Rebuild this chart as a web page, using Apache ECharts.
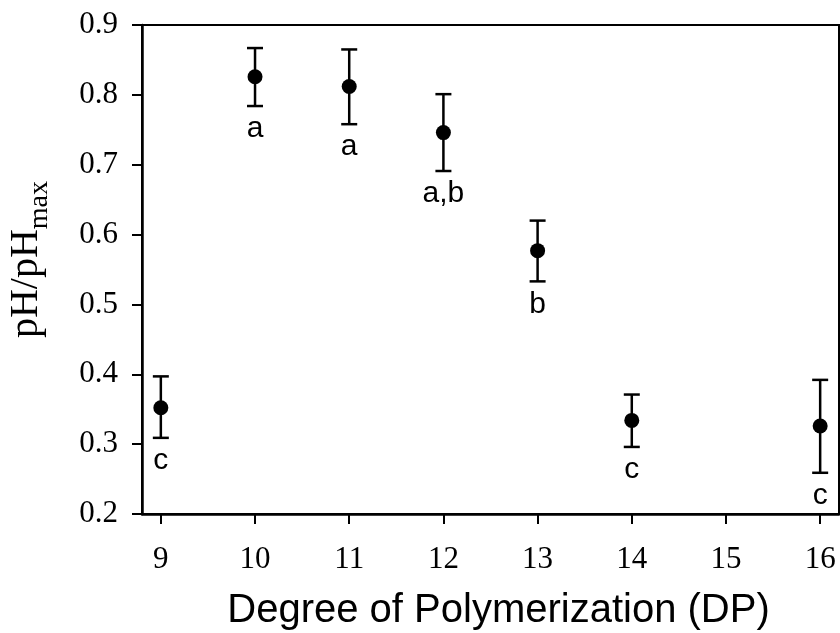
<!DOCTYPE html>
<html>
<head>
<meta charset="utf-8">
<script src="https://cdn.jsdelivr.net/npm/echarts@6/dist/echarts.min.js"></script>
<style>
html,body{margin:0;padding:0;background:#fff;}
#chart{width:840px;height:633px;}
</style>
</head>
<body>
<div id="chart"></div>
<script>
// Data
var dp = [9, 10, 11, 12, 13, 14, 16];
var means = [0.352, 0.826, 0.812, 0.746, 0.577, 0.334, 0.326];
var upper = [0.397, 0.867, 0.865, 0.801, 0.620, 0.371, 0.392];
var lower = [0.309, 0.784, 0.758, 0.691, 0.533, 0.296, 0.259];
var letters = ['c', 'a', 'a', 'a,b', 'b', 'c', 'c'];
var xTicks = [9, 10, 11, 12, 13, 14, 15, 16];

var chart = echarts.init(document.getElementById('chart'), null, {renderer: 'canvas'});

var pointData = dp.map(function (d, i) { return [d, means[i]]; });
var errData = dp.map(function (d, i) { return [d, lower[i], upper[i]]; });

var serif = '"Liberation Serif", "Times New Roman", serif';
var sans = '"Liberation Sans", Arial, sans-serif';

var option = {
  backgroundColor: '#fff',
  animation: false,
  grid: {
    left: 142, right: 1, top: 25, bottom: 119,
    outerBoundsMode: 'none',
    containLabel: false,
    show: true, borderColor: '#000', borderWidth: 2
  },
  xAxis: {
    type: 'value',
    min: 8.8, max: 16.2,
    splitLine: {show: false},
    axisLine: {show: true, onZero: false, lineStyle: {color: '#000', width: 2.5}},
    axisTick: {show: true, inside: false, length: 10, customValues: xTicks, lineStyle: {color: '#000', width: 2}},
    axisLabel: {customValues: xTicks, margin: 30, color: '#000', fontFamily: serif, fontSize: 31},
    name: 'Degree of Polymerization (DP)',
    nameLocation: 'middle',
    nameGap: 77,
    nameTextStyle: {fontFamily: sans, fontSize: 40, color: '#000', padding: [0, 0, 0, 16]}
  },
  yAxis: {
    type: 'value',
    min: 0.2, max: 0.9, interval: 0.1,
    splitLine: {show: false},
    axisLine: {show: true, lineStyle: {color: '#000', width: 2.5}},
    axisTick: {show: true, inside: false, length: 10, lineStyle: {color: '#000', width: 2}},
    axisLabel: {
      margin: 24, color: '#000', fontFamily: serif, fontSize: 31,
      formatter: function (v) { return v.toFixed(1); }
    },
    name: '{a|pH/pH}{b|max}',
    nameLocation: 'middle',
    nameRotate: 90,
    nameGap: 88,
    nameTextStyle: {
      padding: [0, 0, 0, 20],
      rich: {
        a: {fontFamily: serif, fontSize: 40, verticalAlign: 'bottom', padding: [0, 0, 8, 0], color: '#000'},
        b: {fontFamily: serif, fontSize: 28, verticalAlign: 'bottom', color: '#000'}
      }
    }
  },
  series: [
    {
      type: 'custom',
      data: errData,
      z: 2,
      renderItem: function (params, api) {
        var x = api.value(0);
        var pLo = api.coord([x, api.value(1)]);
        var pHi = api.coord([x, api.value(2)]);
        var half = 8;
        var st = {stroke: '#000', lineWidth: 2.5};
        return {
          type: 'group',
          children: [
            {type: 'line', shape: {x1: pHi[0], y1: pHi[1], x2: pLo[0], y2: pLo[1]}, style: st},
            {type: 'line', shape: {x1: pHi[0] - half, y1: pHi[1], x2: pHi[0] + half, y2: pHi[1]}, style: st},
            {type: 'line', shape: {x1: pLo[0] - half, y1: pLo[1], x2: pLo[0] + half, y2: pLo[1]}, style: st},
            {type: 'text', x: pLo[0], y: pLo[1] + 23,
              style: {text: letters[params.dataIndex], fill: '#000', fontFamily: sans, fontSize: 30,
                align: 'center', verticalAlign: 'middle'}}
          ]
        };
      }
    },
    {
      type: 'scatter',
      data: pointData,
      symbol: 'circle',
      symbolSize: 15,
      z: 3,
      itemStyle: {color: '#000', opacity: 1, borderWidth: 0}
    }
  ]
};
chart.setOption(option);
</script>
</body>
</html>
